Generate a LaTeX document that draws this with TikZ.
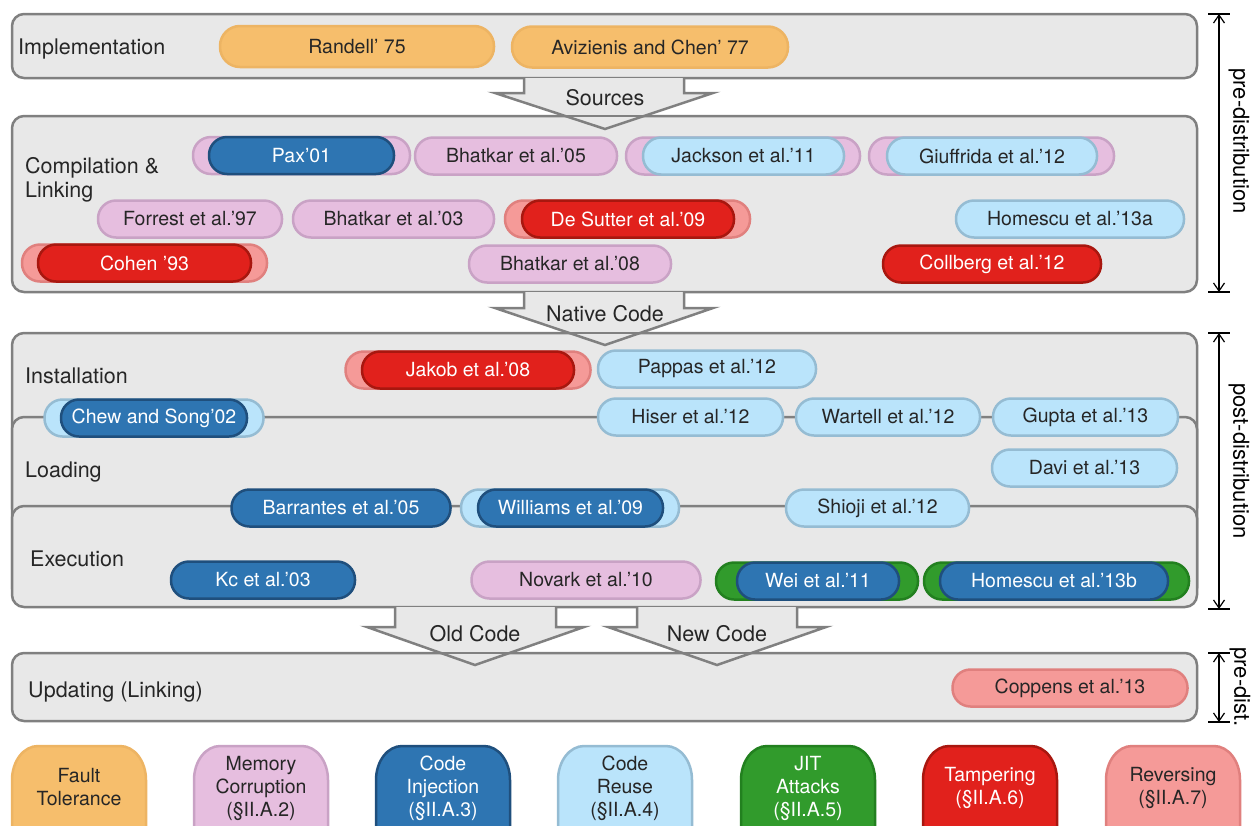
\documentclass[tikz,border=0pt]{standalone}
\usepackage{fontspec}
\setmainfont{TeX Gyre Heros}
\usetikzlibrary{arrows.meta}
\newcommand\figfont{\fontsize{19.5}{24}\selectfont}
\newcommand\stagefont{\fontsize{21.5}{24}\selectfont}
\newcommand\sidefont{\fontsize{22}{24}\selectfont}
\newcommand\legfont{\fontsize{19.5}{23}\selectfont}
\definecolor{boxfill}{HTML}{E8E8E8}
\definecolor{boxline}{HTML}{808080}
\definecolor{txt}{HTML}{262626}
\definecolor{FTfill}{HTML}{F6BE6C}
\definecolor{FTline}{HTML}{EDB463}
\definecolor{MCfill}{HTML}{E6BEDF}
\definecolor{MCline}{HTML}{C9A2C5}
\definecolor{CIfill}{HTML}{2E75B2}
\definecolor{CIline}{HTML}{1F4F7D}
\definecolor{CRfill}{HTML}{BAE4FB}
\definecolor{CRline}{HTML}{95BCD3}
\definecolor{JITfill}{HTML}{319B2C}
\definecolor{JITline}{HTML}{22801F}
\definecolor{TAfill}{HTML}{E1211C}
\definecolor{TAline}{HTML}{A8170F}
\definecolor{REfill}{HTML}{F59A98}
\definecolor{REline}{HTML}{E0807E}
\begin{document}
\begin{tikzpicture}[x=1pt,y=-1pt,
  stage/.style={draw=boxline, fill=boxfill, line width=2.5pt, rounded corners=12pt, minimum width=1185pt, inner sep=0pt},
  lbl/.style={font=\stagefont, text=txt, inner sep=0pt, anchor=base west},
  atext/.style={font=\stagefont, text=txt, inner sep=0pt, anchor=base},
  blockarrow/.style={draw=boxline, fill=boxfill, line width=2.5pt, line join=miter},
  edgeline/.style={draw=boxline, line width=2.5pt},
  pill/.style={draw, line width=2.5pt, rounded corners=18pt, minimum height=37pt, inner sep=0pt, font=\figfont},
  pFT/.style={pill, fill=FTfill, draw=FTline, text=txt},
  pMC/.style={pill, fill=MCfill, draw=MCline, text=txt},
  pCI/.style={pill, fill=CIfill, draw=CIline, text=white},
  pCR/.style={pill, fill=CRfill, draw=CRline, text=txt},
  pJIT/.style={pill, fill=JITfill, draw=JITline, text=white},
  pTA/.style={pill, fill=TAfill, draw=TAline, text=white},
  pRE/.style={pill, fill=REfill, draw=REline, text=txt},
  legendbox/.style={line width=2.5pt},
  legtext/.style={font=\legfont, align=center, inner sep=0pt},
  side/.style={line width=1.2pt, {Straight Barb[length=8pt,width=11pt]}-{Straight Barb[length=8pt,width=11pt]}},
  tick/.style={line width=1.2pt},
  sidelbl/.style={font=\sidefont, text=black, rotate=-90, inner sep=0pt}]
\useasboundingbox (0,0) rectangle (1252,825);
\clip (0,0) rectangle (1252,825);

% stages
\node[stage, minimum height=64pt] (impl) at (604.5,46) {};
\node[stage, minimum height=176pt] (comp) at (604.5,204) {};
\node[stage, minimum height=187pt] (inst) at (604.5,426.5) {};
\node[stage, minimum height=183pt] (load) at (604.5,508.5) {};
\node[stage, minimum height=101pt] (exec) at (604.5,556.5) {};
\node[stage, minimum height=68pt] (upd) at (604.5,687) {};

\node[lbl] (limpl) at (18,54) {Implementation};
\node[font=\stagefont, text=txt, inner sep=0pt, anchor=west, align=left] (lcomp) at (25,179.5) {Compilation \&\\Linking};
\node[lbl] (linst) at (25,383) {Installation};
\node[lbl] (lload) at (25,477) {Loading};
\node[lbl] (lexec) at (30,566) {Execution};
\node[lbl] (lupd) at (28,697) {Updating (Linking)};

% block arrows
\draw[blockarrow] (524,78) -- (524,93) -- (495,93) -- (605,129) -- (713,93) -- (684,93) -- (684,78);
\draw[edgeline] (495,116) -- (713,116);
\node[atext] (tsrc) at (605,105) {Sources};
\draw[blockarrow] (524,292) -- (524,308) -- (495,308) -- (605,345) -- (713,308) -- (684,308) -- (684,292);
\draw[edgeline] (495,333) -- (713,333);
\node[atext] (tnat) at (605,321) {Native Code};
\draw[blockarrow] (395,607) -- (395,627) -- (367,627) -- (475,665) -- (584,627) -- (556,627) -- (556,607);
\draw[blockarrow] (637,607) -- (637,627) -- (608,627) -- (717,665) -- (826,627) -- (797,627) -- (797,607);
\draw[edgeline] (367,653) -- (826,653);
\node[atext] (told) at (475,641) {Old Code};
\node[atext] (tnew) at (717,641) {New Code};

% implementation
\node[pFT, minimum width=274pt, minimum height=41pt, rounded corners=20pt] (rand) at (357,46.5) {Randell’ 75};
\node[pFT, minimum width=276pt, minimum height=41pt, rounded corners=20pt] (aviz) at (650,47) {Avizienis and Chen’ 77};

% compilation & linking
\node[pMC, minimum width=217pt] (paxb) at (301.5,155.5) {};
\node[pCI, minimum width=185pt] (pax) at (301.5,155.5) {Pax’01};
\node[pMC, minimum width=202pt] (bh05) at (516,156) {Bhatkar et al.’05};
\node[pMC, minimum width=234pt] (jackb) at (743,156) {};
\node[pCR, minimum width=201pt] (jack) at (743.5,156) {Jackson et al.’11};
\node[pMC, minimum width=245pt] (giub) at (991.5,156) {};
\node[pCR, minimum width=210pt] (giu) at (992,156) {Giuffrida et al.’12};
\node[pMC, minimum width=184pt] (forr) at (190,219) {Forrest et al.’97};
\node[pMC, minimum width=201pt] (bh03) at (393.5,219) {Bhatkar et al.’03};
\node[pRE, minimum width=245pt] (desb) at (627.5,219) {};
\node[pTA, minimum width=212pt] (des) at (628,219) {De Sutter et al.’09};
\node[pCR, minimum width=228pt] (hom13a) at (1070,219) {Homescu et al.’13a};
\node[pRE, minimum width=245pt] (cohb) at (144.5,263) {};
\node[pTA, minimum width=213pt] (coh) at (144.5,263) {Cohen ’93};
\node[pMC, minimum width=202pt] (bh08) at (570,264) {Bhatkar et al.’08};
\node[pTA, minimum width=218pt] (coll) at (992,264) {Collberg et al.’12};

% installation
\node[pRE, minimum width=245pt] (jakb) at (468,370) {};
\node[pTA, minimum width=212pt] (jak) at (468,370) {Jakob et al.’08};
\node[pCR, minimum width=218pt] (pap) at (707,369) {Pappas et al.’12};
\node[pCR, minimum width=219pt] (chewb) at (154,418) {};
\node[pCI, minimum width=186pt] (chew) at (154,418) {Chew and Song’02};
\node[pCR, minimum width=185pt] (hiser) at (690.5,417) {Hiser et al.’12};
\node[pCR, minimum width=184pt] (wart) at (888,417) {Wartell et al.’12};
\node[pCR, minimum width=185pt] (gupta) at (1085.5,417) {Gupta et al.’13};

% loading
\node[pCR, minimum width=185pt] (davi) at (1084.5,468) {Davi et al.’13};
\node[pCI, minimum width=219pt] (barr) at (341,508) {Barrantes et al.’05};
\node[pCR, minimum width=218pt] (willb) at (570,508) {};
\node[pCI, minimum width=185pt] (will) at (570.5,508) {Williams et al.’09};
\node[pCR, minimum width=183pt] (shio) at (877.5,508) {Shioji et al.’12};

% execution
\node[pCI, minimum width=184pt] (kc) at (263,580) {Kc et al.’03};
\node[pMC, minimum width=229pt] (nov) at (586,580) {Novark et al.’10};
\node[pJIT, minimum width=202pt] (weib) at (817,581) {};
\node[pCI, minimum width=162pt] (wei) at (818,581) {Wei et al.’11};
\node[pJIT, minimum width=265pt] (hom13bb) at (1056.5,581) {};
\node[pCI, minimum width=228pt] (hom13b) at (1054,581) {Homescu et al.’13b};

% updating
\node[pRE, minimum width=235pt] (copp) at (1070,688) {Coppens et al.’13};

% side dimension lines
\coordinate (pa) at (1219,14);
\coordinate (pb) at (1219,292);
\coordinate (qa) at (1219,333);
\coordinate (qb) at (1219,609);
\coordinate (ra) at (1219,653);
\coordinate (rb) at (1219,722);
\draw[side] (pa) -- (pb);
\draw[side] (qa) -- (qb);
\draw[side] (ra) -- (rb);
\foreach \c in {pa,pb,qa,qb,ra,rb} {\draw[tick] ([xshift=-11pt]\c) -- ([xshift=11pt]\c);}
\node[sidelbl] (spre) at (1239,141) {pre-distribution};
\node[sidelbl] (spost) at (1239,461) {post-distribution};
\node[sidelbl] (sdist) at (1240,687) {pre-dist.};

% legend
\foreach \l/\fc/\dc in {12/FTfill/FTline, 194/MCfill/MCline, 376/CIfill/CIline, 558/CRfill/CRline, 741/JITfill/JITline, 923/TAfill/TAline, 1106/REfill/REline}{
  \draw[legendbox, fill=\fc, draw=\dc] (\l,870) -- (\l,780)
    .. controls (\l,761.2) and ({\l+11.6},746) .. ({\l+26},746)
    -- ({\l+108},746)
    .. controls ({\l+122.4},746) and ({\l+134},761.2) .. ({\l+134},780)
    -- ({\l+134},870);
}
\node[legtext, text=txt] (lft) at (79,787.5) {Fault\\Tolerance};
\node[legtext, text=txt] (lmc) at (261,788) {Memory\\Corruption\\(§II.A.2)};
\node[legtext, text=white] (lci) at (443,788) {Code\\Injection\\(§II.A.3)};
\node[legtext, text=txt] (lcr) at (625,788) {Code\\Reuse\\(§II.A.4)};
\node[legtext, text=white] (ljit) at (808,788) {JIT\\Attacks\\(§II.A.5)};
\node[legtext, text=white] (lta) at (990,787.5) {Tampering\\(§II.A.6)};
\node[legtext, text=txt] (lre) at (1173,787.5) {Reversing\\(§II.A.7)};
\end{tikzpicture}
\end{document}
